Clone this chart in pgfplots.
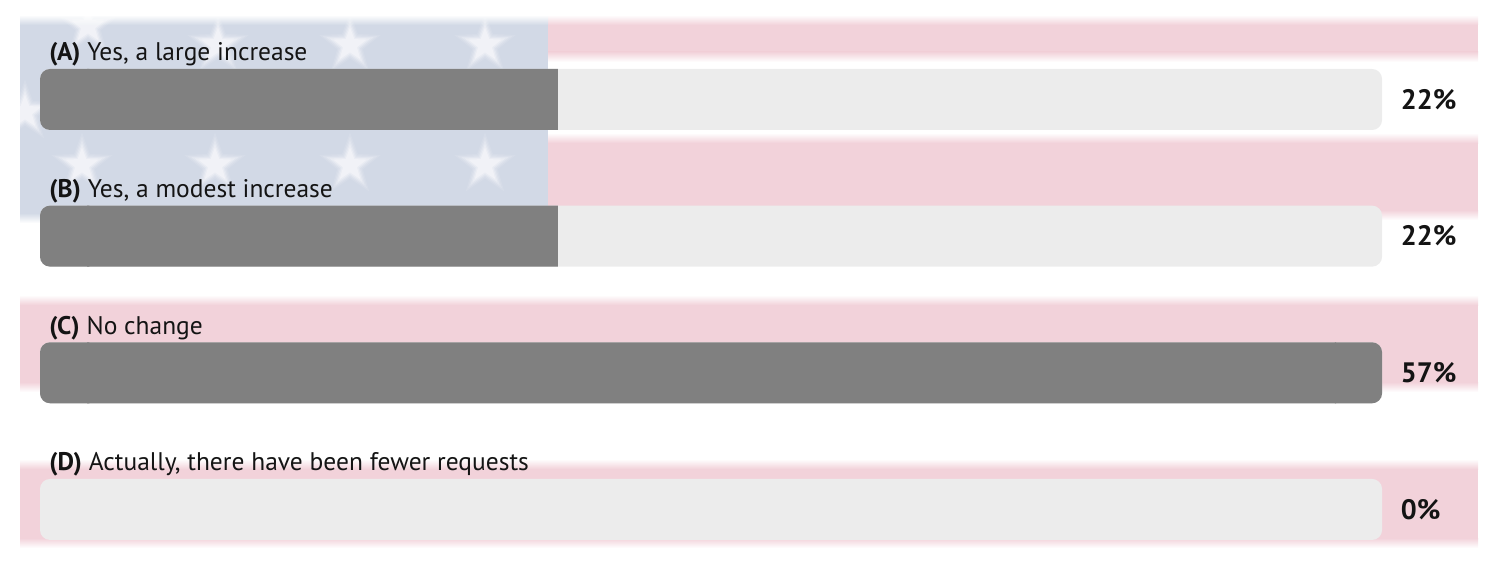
\documentclass[border=0pt]{standalone}
\usepackage{pgfplots}
\pgfplotsset{compat=1.18}
\usepackage{pgfplotstable}
\usepackage{fontspec}
\setmainfont{PT Sans}
\usetikzlibrary{shapes.geometric}

\definecolor{flagblue}{HTML}{D2D9E6}
\definecolor{flagred}{HTML}{F2D2DA}
\definecolor{trackgray}{HTML}{ECECEC}
\definecolor{bargray}{HTML}{808080}
\definecolor{ink}{HTML}{141414}

% poll answers: share of votes, track length = largest share
\pgfplotstableread{
idx value track
0   22    57
1   22    57
2   57    57
3   0     57
}\polldata

% soft-edged flag band, pixel coordinates
\newcommand\band[5]{%
  \fill[#5] (#1,#2+5) rectangle (#3,#4-5);
  \shade[top color=white, bottom color=#5] (#1,#2-5) rectangle (#3,#2+5);
  \shade[top color=#5, bottom color=white] (#1,#4-5) rectangle (#3,#4+5);}

\begin{document}
\begin{tikzpicture}[font=\fontsize{14.5}{17}\selectfont, text=ink]
% faded flag behind the chart (1 px = 0.2 mm)
\begin{scope}[x=0.2mm, y=-0.2mm, yshift=113.2mm]
  \path (0,0) rectangle (1500,566);
  \band{548}{20}{1478}{57}{flagred}
  \band{548}{138}{1478}{215}{flagred}
  \band{20}{300}{1478}{387}{flagred}
  \band{20}{464}{1478}{543}{flagred}
  \band{20}{20}{548}{218}{flagblue}
  \begin{scope}
    \clip (20,15) rectangle (548,224);
    \foreach \sx/\sy in {88/26,218/45,350/45,485/45,25/112,82/165,215/165,350/165,485/165}{
      \foreach \sz/\op in {13/.1,11.5/.14,10/.2,8.5/.28,7/.35}{
        \node[star, star points=5, star point ratio=2.4, fill=white, opacity=\op,
              minimum size=\sz mm, inner sep=0pt] at (\sx,\sy) {};
      }
    }
  \end{scope}
\end{scope}

\begin{axis}[
  at={(0,0)}, anchor=south west,
  scale only axis, width=300mm, height=113.2mm,
  xmin=-1.699, xmax=62.01,
  ymin=-0.728, ymax=3.414, y dir=reverse,
  hide axis, clip=false,
  every axis plot/.append style={xbar, bar shift=0pt, bar width=12.2mm, draw=none},
  /pgf/number format/assume math mode=true,
]
% grey tracks with the percentages after them
\addplot[fill=trackgray, rounded corners=2mm,
  point meta=explicit,
  nodes near coords={\pgfmathprintnumber{\pgfplotspointmeta}\%},
  nodes near coords style={anchor=west, inner sep=0pt, xshift=3.7mm, text=ink,
    font=\fontsize{16}{18}\selectfont\bfseries}]
  table[x=track, y=idx, meta=value] {\polldata};
% filled part: rounded ends (only the far left and far right are kept)
\begin{scope}
  \clip (axis cs:-1,-0.5) rectangle (axis cs:2.1,3.3)
        (axis cs:55,-0.5) rectangle (axis cs:60,3.3);
  \addplot[fill=bargray, rounded corners=2mm, restrict x to domain=0.5:100]
    table[x=value, y=idx] {\polldata};
\end{scope}
% square right end where the bar stops short of the track
\begin{scope}
  \clip (axis cs:2,-0.5) rectangle (axis cs:55.05,3.3);
  \addplot[fill=bargray, sharp corners, restrict x to domain=0.5:100]
    table[x=value, y=idx] {\polldata};
\end{scope}

\node[anchor=base west, inner sep=0pt] at (axis cs:0.382,-0.282) {\textbf{(A)} Yes, a large increase};
\node[anchor=base west, inner sep=0pt] at (axis cs:0.382,0.718) {\textbf{(B)} Yes, a modest increase};
\node[anchor=base west, inner sep=0pt] at (axis cs:0.382,1.718) {\textbf{(C)} No change};
\node[anchor=base west, inner sep=0pt] at (axis cs:0.382,2.718) {\textbf{(D)} Actually, there have been fewer requests};
\end{axis}
\end{tikzpicture}
\end{document}
